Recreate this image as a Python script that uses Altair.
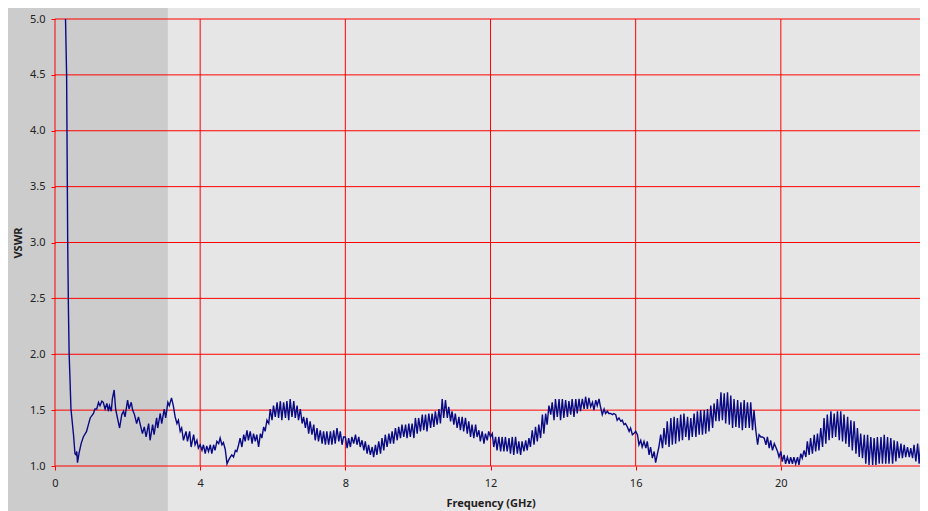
import altair as alt
import pandas as pd

# ---- data: frequency (GHz) and VSWR ----
f_0_4 = [0.29,0.32,0.33,0.35,0.37,0.39,0.41,0.44,0.51,0.55,
         0.58,0.60,0.62,0.66,0.72,0.78,0.87,0.92,0.97,1.06,
         1.10,1.15,1.20,1.24,1.29,1.33,1.38,1.43,1.47,1.50,
         1.55,1.58,1.63,1.67,1.72,1.78,1.84,1.89,1.93,2.00,
         2.04,2.10,2.14,2.19,2.25,2.30,2.35,2.41,2.46,2.51,
         2.58,2.62,2.69,2.73,2.80,2.83,2.90,2.94,3.01,3.05,
         3.11,3.15,3.21,3.26,3.31,3.36,3.40,3.45,3.49,3.54,
         3.61,3.65,3.71,3.75,3.82,3.86,3.91,3.95]
v_0_4 = [5.0,4.5,4.0,3.0,2.4,2.0,1.81,1.51,1.28,1.11,
         1.10,1.13,1.03,1.11,1.20,1.26,1.31,1.37,1.43,1.47,
         1.51,1.51,1.57,1.54,1.58,1.57,1.51,1.56,1.49,1.54,
         1.49,1.60,1.68,1.51,1.43,1.34,1.46,1.49,1.44,1.59,
         1.51,1.57,1.50,1.46,1.38,1.44,1.37,1.29,1.35,1.26,
         1.38,1.23,1.37,1.28,1.43,1.34,1.47,1.38,1.51,1.43,
         1.57,1.54,1.61,1.54,1.44,1.38,1.41,1.31,1.34,1.23,
         1.31,1.22,1.31,1.17,1.28,1.19,1.23,1.16]

f_4_8 = [4.00,4.05,4.09,4.14,4.18,4.23,4.28,4.32,4.37,4.41,
         4.46,4.51,4.55,4.60,4.64,4.69,4.74,4.78,4.83,4.87,
         4.92,4.97,5.01,5.06,5.10,5.15,5.20,5.24,5.29,5.33,
         5.38,5.43,5.47,5.52,5.56,5.61,5.66,5.70,5.75,5.79,
         5.84,5.89,5.93,5.98,6.02,6.07,6.12,6.16,6.21,6.25,
         6.30,6.35,6.39,6.44,6.48,6.53,6.58,6.62,6.67,6.71,
         6.76,6.81,6.85,6.90,6.94,6.99,7.03,7.08,7.13,7.17,
         7.22,7.26,7.31,7.36,7.40,7.45,7.49,7.54,7.59,7.63,
         7.68,7.72,7.77,7.82,7.86,7.91,7.95]
v_4_8 = [1.19,1.14,1.19,1.11,1.18,1.13,1.19,1.11,1.19,1.14,
         1.22,1.20,1.25,1.19,1.21,1.15,1.02,1.05,1.08,1.10,
         1.08,1.14,1.13,1.19,1.25,1.17,1.28,1.22,1.32,1.23,
         1.31,1.20,1.29,1.22,1.28,1.17,1.29,1.25,1.35,1.31,
         1.41,1.38,1.51,1.41,1.54,1.44,1.57,1.43,1.58,1.41,
         1.57,1.43,1.58,1.41,1.60,1.44,1.58,1.43,1.54,1.41,
         1.51,1.38,1.44,1.34,1.43,1.29,1.40,1.28,1.37,1.23,
         1.34,1.22,1.32,1.20,1.31,1.19,1.31,1.19,1.31,1.19,
         1.32,1.20,1.34,1.22,1.31,1.19,1.26]

f_8_12 = [8.00,8.05,8.09,8.14,8.18,8.23,8.28,8.32,8.37,8.41,
          8.46,8.51,8.55,8.60,8.64,8.69,8.74,8.78,8.83,8.87,
          8.92,8.97,9.01,9.06,9.10,9.15,9.20,9.24,9.29,9.33,
          9.38,9.43,9.47,9.52,9.56,9.61,9.66,9.70,9.75,9.79,
          9.84,9.89,9.93,9.98,10.02,10.07,10.12,10.16,10.21,10.25,
          10.30,10.35,10.39,10.44,10.48,10.53,10.58,10.62,10.67,10.71,
          10.76,10.81,10.85,10.90,10.94,10.99,11.03,11.08,11.13,11.17,
          11.22,11.26,11.31,11.36,11.40,11.45,11.49,11.54,11.59,11.63,
          11.68,11.72,11.77,11.82,11.86,11.91,11.95]
v_8_12 = [1.26,1.16,1.25,1.17,1.26,1.20,1.28,1.19,1.26,1.17,
          1.23,1.14,1.22,1.11,1.19,1.10,1.17,1.08,1.19,1.10,
          1.22,1.11,1.25,1.14,1.28,1.17,1.29,1.20,1.31,1.20,
          1.34,1.23,1.35,1.25,1.37,1.26,1.37,1.25,1.38,1.26,
          1.38,1.25,1.43,1.29,1.43,1.31,1.46,1.32,1.46,1.31,
          1.47,1.34,1.47,1.35,1.49,1.37,1.51,1.38,1.60,1.43,
          1.59,1.43,1.53,1.40,1.49,1.37,1.47,1.34,1.44,1.32,
          1.44,1.31,1.43,1.29,1.40,1.26,1.37,1.25,1.37,1.26,
          1.32,1.22,1.31,1.20,1.29,1.23,1.31]

f_12_16 = [12.00,12.05,12.09,12.14,12.18,12.23,12.28,12.32,12.37,12.41,
           12.46,12.51,12.55,12.60,12.64,12.69,12.74,12.78,12.83,12.87,
           12.92,12.97,13.01,13.06,13.10,13.15,13.20,13.24,13.29,13.33,
           13.38,13.43,13.47,13.52,13.56,13.61,13.66,13.70,13.75,13.79,
           13.84,13.89,13.93,13.98,14.02,14.07,14.12,14.16,14.21,14.25,
           14.30,14.35,14.39,14.44,14.48,14.53,14.58,14.62,14.67,14.71,
           14.76,14.81,14.85,14.90,14.94,14.99,15.03,15.08,15.13,15.17,
           15.22,15.26,15.31,15.36,15.40,15.45,15.49,15.54,15.59,15.63,
           15.68,15.72,15.77,15.82,15.86,15.91,15.95]
v_12_16 = [1.26,1.29,1.17,1.26,1.14,1.26,1.13,1.26,1.13,1.26,
           1.13,1.25,1.11,1.26,1.10,1.26,1.11,1.22,1.10,1.22,
           1.13,1.23,1.14,1.25,1.17,1.32,1.19,1.35,1.22,1.37,
           1.25,1.46,1.29,1.47,1.37,1.54,1.46,1.57,1.41,1.60,
           1.44,1.60,1.41,1.60,1.43,1.59,1.44,1.58,1.46,1.60,
           1.44,1.60,1.47,1.60,1.49,1.60,1.51,1.62,1.51,1.61,
           1.53,1.57,1.50,1.59,1.54,1.60,1.53,1.46,1.51,1.47,
           1.49,1.47,1.47,1.46,1.47,1.46,1.41,1.43,1.40,1.41,
           1.37,1.38,1.35,1.31,1.34,1.28,1.29]

f_16_20 = [16.00,16.05,16.09,16.14,16.18,16.23,16.28,16.32,16.37,16.41,
           16.46,16.51,16.55,16.60,16.64,16.69,16.74,16.78,16.83,16.87,
           16.92,16.97,17.01,17.06,17.10,17.15,17.20,17.24,17.29,17.33,
           17.38,17.43,17.47,17.52,17.56,17.61,17.66,17.70,17.75,17.79,
           17.84,17.89,17.93,17.98,18.02,18.07,18.12,18.16,18.21,18.25,
           18.30,18.35,18.39,18.44,18.48,18.53,18.58,18.62,18.67,18.71,
           18.76,18.81,18.85,18.90,18.94,18.99,19.03,19.08,19.13,19.17,
           19.22,19.26,19.31,19.36,19.40,19.45,19.49,19.54,19.59,19.63,
           19.68,19.72,19.77,19.82,19.86,19.91,19.95]
v_16_20 = [1.31,1.28,1.19,1.23,1.17,1.22,1.16,1.22,1.10,1.17,
           1.07,1.13,1.03,1.11,1.17,1.28,1.16,1.34,1.19,1.40,
           1.17,1.43,1.19,1.44,1.20,1.43,1.22,1.46,1.23,1.47,
           1.26,1.44,1.23,1.43,1.26,1.47,1.26,1.49,1.28,1.50,
           1.28,1.50,1.29,1.51,1.31,1.54,1.34,1.56,1.40,1.60,
           1.40,1.66,1.41,1.65,1.38,1.66,1.37,1.63,1.34,1.60,
           1.35,1.59,1.34,1.57,1.32,1.59,1.34,1.57,1.34,1.57,
           1.32,1.50,1.32,1.19,1.28,1.26,1.26,1.25,1.19,1.26,
           1.16,1.23,1.14,1.20,1.17,1.13,1.08]

f_20_24 = [20.00,20.04,20.09,20.13,20.18,20.23,20.27,20.32,20.36,20.41,
           20.46,20.50,20.55,20.59,20.64,20.69,20.73,20.78,20.82,20.87,
           20.92,20.96,21.01,21.05,21.10,21.15,21.19,21.24,21.28,21.33,
           21.38,21.42,21.47,21.51,21.56,21.61,21.65,21.70,21.74,21.79,
           21.84,21.88,21.93,21.97,22.02,22.07,22.11,22.16,22.20,22.25,
           22.30,22.34,22.39,22.43,22.48,22.53,22.57,22.62,22.66,22.71,
           22.76,22.80,22.85,22.89,22.94,22.98,23.03,23.08,23.12,23.17,
           23.21,23.26,23.31,23.35,23.40,23.44,23.49,23.54,23.58,23.63,
           23.67,23.72,23.77,23.81,23.86,23.90,23.95,24.00]
v_20_24 = [1.13,1.04,1.10,1.02,1.08,1.02,1.08,1.02,1.08,1.02,
           1.08,1.01,1.11,1.07,1.14,1.08,1.22,1.10,1.25,1.11,
           1.28,1.13,1.29,1.14,1.34,1.17,1.43,1.20,1.46,1.23,
           1.49,1.25,1.47,1.26,1.49,1.23,1.49,1.22,1.46,1.20,
           1.44,1.17,1.41,1.14,1.40,1.11,1.34,1.08,1.29,1.07,
           1.28,1.02,1.28,1.01,1.26,1.01,1.25,1.01,1.26,1.02,
           1.26,1.02,1.28,1.02,1.26,1.02,1.25,1.02,1.23,1.04,
           1.22,1.07,1.20,1.07,1.19,1.08,1.17,1.08,1.16,1.07,
           1.19,1.04,1.20,1.02,1.22,1.01,1.20,1.10]

x_ticks = [0, 4, 8, 12, 16, 20, 24]
y_ticks = [1.0, 1.5, 2.0, 2.5, 3.0, 3.5, 4.0, 4.5, 5.0]
shade_end = [3.11]

segments = [(f_0_4, v_0_4), (f_4_8, v_4_8), (f_8_12, v_8_12),
            (f_12_16, v_12_16), (f_16_20, v_16_20), (f_20_24, v_20_24)]
rows = [{"f": f, "v": v} for fs, vs in segments for f, v in zip(fs, vs)]
df = pd.DataFrame(rows)

W, H = 871, 447
# right padding is negative so the page does not overflow (plot is cut at the right like the reference)
PAD = {"left": 47, "top": 11, "right": -6, "bottom": 45}

xs = alt.Scale(domain=[0, 24], nice=False, zero=False)
ys = alt.Scale(domain=[1, 5], nice=False, zero=False)
FONT = "Noto Sans"

x_axis = alt.Axis(values=x_ticks, grid=False, domain=False, tickColor="#ff0000",
                  tickSize=4, labelPadding=7, title="Frequency (GHz)",
                  titlePadding=9, labelFlush=False, zindex=2)
y_axis = alt.Axis(values=y_ticks, format=".1f", grid=False, domain=False,
                  tickColor="#ff0000", tickSize=4, labelPadding=6, title="VSWR",
                  titlePadding=6, labelFlush=False, zindex=2)

band = alt.Chart(pd.DataFrame({"f": shade_end})).mark_rect(color="#cccccc").encode(
    x=alt.X("f:Q", scale=xs, axis=x_axis),
    x2=alt.value(-PAD["left"]),
    y=alt.value(-PAD["top"]),
    y2=alt.value(H + PAD["bottom"]),
)

vgrid = alt.Chart(pd.DataFrame({"f": x_ticks})).mark_rule(color="#ff0000", strokeWidth=1).encode(
    x=alt.X("f:Q", scale=xs, axis=x_axis)
)
hgrid = alt.Chart(pd.DataFrame({"v": y_ticks})).mark_rule(color="#ff0000", strokeWidth=1).encode(
    y=alt.Y("v:Q", scale=ys, axis=y_axis)
)

line = alt.Chart(df).mark_line(color="#0a0a85", strokeWidth=1.4).encode(
    x=alt.X("f:Q", scale=xs, axis=x_axis),
    y=alt.Y("v:Q", scale=ys, axis=y_axis),
    order=alt.Order("f:Q"),
)

chart = alt.layer(band, vgrid, hgrid, line).properties(
    width=W, height=H, padding=PAD, autosize="none", background="#e6e6e6"
).configure_view(stroke=None).configure_axis(
    labelFont=FONT, titleFont=FONT, labelFontSize=11, titleFontSize=11,
    labelColor="#222222", titleColor="#222222", titleFontWeight="bold",
)

chart.save("out.html", embed_options={"renderer": "svg", "actions": False})
